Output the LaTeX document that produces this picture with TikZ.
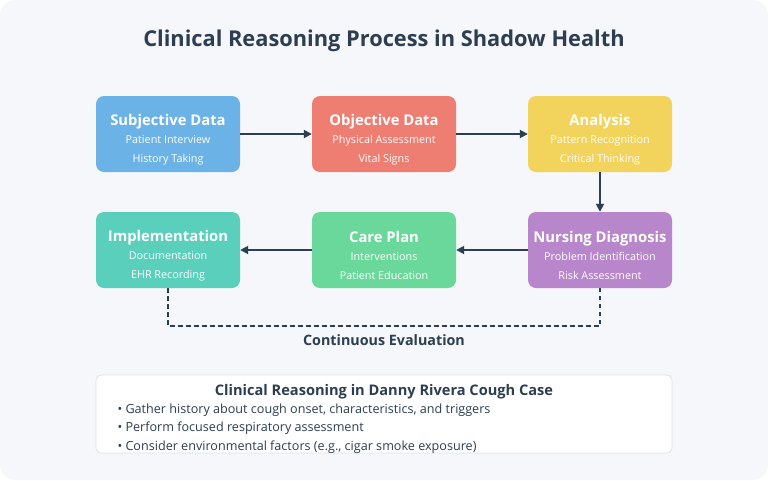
\documentclass[tikz,border=0pt]{standalone}
\usepackage{fontspec}
\setmainfont{Open Sans}
\usetikzlibrary{arrows.meta,positioning}

\definecolor{bgGray}{HTML}{F5F7FA}
\definecolor{inkDark}{HTML}{2C3E50}
\definecolor{subjBlue}{HTML}{6BB3E6}
\definecolor{objRed}{HTML}{EE7D72}
\definecolor{anaYellow}{HTML}{F2D35B}
\definecolor{diagPurple}{HTML}{B887CB}
\definecolor{planGreen}{HTML}{6AD89A}
\definecolor{implTeal}{HTML}{5ACFBB}
\definecolor{noteEdge}{HTML}{DDE1E6}

\newcommand{\stepText}[3]{%
  {\fontsize{14.8}{17}\selectfont\bfseries #1}\\[1.5pt]
  #2\\[2pt]
  #3}

\begin{document}
\begin{tikzpicture}[x=1pt,y=-1pt,
    stepbox/.style={
        rounded corners=8pt,
        minimum width=144pt,
        minimum height=76pt,
        inner sep=0pt
    },
    steptext/.style={
        align=center,
        text=white,
        inner sep=0pt,
        yshift=-5.5pt,
        font=\fontsize{10.8}{17}\selectfont
    },
    flow/.style={
        inkDark,
        line width=1.8pt,
        -{Triangle[length=8pt,width=8pt]}
    },
    loopline/.style={
        inkDark,
        line width=1.6pt,
        dash pattern=on 4.5pt off 3.5pt
    }
]

% background
\fill[white] (0,0) rectangle (768,480);
\fill[bgGray, rounded corners=16pt] (0,0) rectangle (768,480);

\node[inkDark, font=\fontsize{21.8}{25}\selectfont\bfseries] (title) at (384,41)
{Clinical Reasoning Process in Shadow Health};

% top row
\node[stepbox, fill=subjBlue,
      label={[steptext]center:\stepText{Subjective Data}{Patient Interview}{History Taking}}]
      (subj) at (168,134) {};
\node[stepbox, fill=objRed,
      label={[steptext]center:\stepText{Objective Data}{Physical Assessment}{Vital Signs}}]
      (obj) at (384,134) {};
\node[stepbox, fill=anaYellow,
      label={[steptext]center:\stepText{Analysis}{Pattern Recognition}{Critical Thinking}}]
      (ana) at (600,134) {};

% bottom row
\node[stepbox, fill=diagPurple,
      label={[steptext]center:\stepText{Nursing Diagnosis}{Problem Identification}{Risk Assessment}}]
      (diag) at (600,250) {};
\node[stepbox, fill=planGreen,
      label={[steptext]center:\stepText{Care Plan}{Interventions}{Patient Education}}]
      (plan) at (384,250) {};
\node[stepbox, fill=implTeal,
      label={[steptext]center:\stepText{Implementation}{Documentation}{EHR Recording}}]
      (impl) at (168,250) {};

\draw[flow] (subj) -- (obj);
\draw[flow] (obj) -- (ana);
\draw[flow] (ana) -- (diag);
\draw[flow] (diag) -- (plan);
\draw[flow] (plan) -- (impl);

% evaluation loop
\draw[loopline] (impl.south) -- ++(0,38) -| (diag.south);
\node[inkDark, font=\fontsize{14.3}{17}\selectfont\bfseries] (evalLabel) at (384,340)
{Continuous Evaluation};

% case notes
\node[draw=noteEdge, fill=white, line width=0.8pt, rounded corners=5pt,
      minimum width=576pt, minimum height=78pt] (notes) at (384,414) {};
\node[inkDark, font=\fontsize{14.6}{17}\selectfont\bfseries, below=6pt of notes.north] (notesTitle)
{Clinical Reasoning in Danny Rivera Cough Case};
\node[inkDark, font=\fontsize{12.6}{18.5}\selectfont, align=left, anchor=north west] (notesList)
at (114,400)
{\textbullet\ Gather history about cough onset, characteristics, and triggers\\
 \textbullet\ Perform focused respiratory assessment\\
 \textbullet\ Consider environmental factors (e.g., cigar smoke exposure)};

\pgfresetboundingbox
\path[use as bounding box] (0,0) rectangle (768,480);
\end{tikzpicture}
\end{document}
